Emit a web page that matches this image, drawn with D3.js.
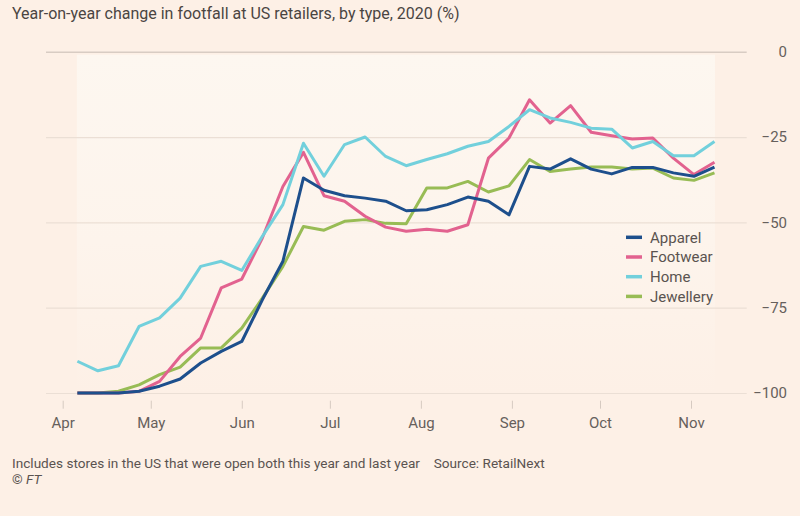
<!DOCTYPE html>
<html>
<head>
<meta charset="utf-8">
<script src="https://cdn.jsdelivr.net/npm/d3@7/dist/d3.min.js"></script>
<style>
  html, body { margin: 0; padding: 0; background: #fdf0e6; }
  svg { display: block; font-family: Roboto, "Open Sans", sans-serif; }
</style>
</head>
<body>
<svg id="chart" width="800" height="516"></svg>
<script>
// ---- data ----
const weekStarts = ["2020-04-06","2020-04-13","2020-04-20","2020-04-27","2020-05-04","2020-05-11","2020-05-18","2020-05-25",
  "2020-06-01","2020-06-08","2020-06-15","2020-06-22","2020-06-29","2020-07-06","2020-07-13","2020-07-20","2020-07-27",
  "2020-08-03","2020-08-10","2020-08-17","2020-08-24","2020-08-31","2020-09-07","2020-09-14","2020-09-21","2020-09-28",
  "2020-10-05","2020-10-12","2020-10-19","2020-10-26","2020-11-02","2020-11-09"];
const seriesNames = ["Apparel", "Footwear", "Home", "Jewellery"];
const apparel = [-100,-100,-100,-99.5,-98,-95.9,-91.2,-87.8,-84.9,-72.7,-61.4,-37,-40.6,-42.2,-42.9,-43.8,
  -46.6,-46.3,-44.8,-42.6,-43.8,-47.8,-33.6,-34.4,-31.4,-34.4,-35.8,-33.9,-33.9,-35.5,-36.5,-33.8];
const footwear = [-100,-100,-100,-99.5,-96.6,-89.3,-83.9,-69.2,-66.6,-54.6,-39.5,-29.5,-42.2,-43.8,-48.2,-51.4,
  -52.6,-52,-52.6,-50.7,-31.2,-25.3,-14.1,-20.9,-15.8,-23.6,-24.6,-25.6,-25.3,-31.2,-36,-32.4];
const home = [-90.7,-93.5,-92,-80.5,-78,-72.2,-62.9,-61.4,-64.1,-54.1,-44.8,-26.8,-36.5,-27.2,-25,-30.7,
  -33.4,-31.6,-29.9,-27.7,-26.3,-21.9,-17,-19.4,-20.7,-22.4,-22.7,-28.2,-26.3,-30.5,-30.5,-26.3];
const jewellery = [-100,-100,-99.5,-97.6,-94.6,-92.4,-86.8,-86.8,-81,-72.2,-62.9,-51.2,-52.3,-49.7,-49.2,-50.3,
  -50.4,-39.9,-39.9,-38,-41.1,-39.3,-31.6,-35.1,-34.4,-33.8,-33.8,-34.4,-34.1,-37,-37.7,-35.5];
const monthTicks = ["2020-04-01","2020-05-01","2020-06-01","2020-07-01","2020-08-01","2020-09-01","2020-10-01","2020-11-01"];
const yTicks = [0, -25, -50, -75, -100];

const colors = ["#1d4f8c", "#e2628f", "#72d0dc", "#98bc55"];
const seriesValues = [apparel, footwear, home, jewellery];

// ---- setup ----
const parse = d3.utcParse("%Y-%m-%d");
const svg = d3.select("#chart");

const x = d3.scaleUtc()
  .domain([parse("2020-04-01"), parse("2020-11-01")])
  .range([62.7, 691]);
const y = d3.scaleLinear().domain([-100, 0]).range([393, 51.7]);

// lighter plot panel
const defs = svg.append("defs");
const grad = defs.append("linearGradient").attr("id", "panel").attr("x1", 0).attr("y1", 0).attr("x2", 0).attr("y2", 1);
grad.append("stop").attr("offset", "0%").attr("stop-color", "#fdf7f0");
grad.append("stop").attr("offset", "55%").attr("stop-color", "#fdf4ec");
grad.append("stop").attr("offset", "100%").attr("stop-color", "#fdf0e6");
svg.append("rect")
  .attr("x", x(parse(weekStarts[0])) - 0.5)
  .attr("y", y(0) + 3)
  .attr("width", x(parse(weekStarts[weekStarts.length - 1])) - x(parse(weekStarts[0])) + 1)
  .attr("height", y(-100) - y(0) - 3)
  .attr("fill", "url(#panel)");

// title
svg.append("text")
  .attr("x", 12).attr("y", 19)
  .attr("font-size", 16).attr("fill", "#4a4542")
  .text("Year-on-year change in footfall at US retailers, by type, 2020 (%)");

// y axis with gridlines
const yAxis = d3.axisRight(y)
  .tickValues(yTicks)
  .tickSize(700.7)
  .tickPadding(0)
  .tickFormat(d => d === 0 ? "0" : "\u2212" + Math.abs(d));
const yg = svg.append("g").attr("transform", "translate(46,0)").call(yAxis);
yg.select(".domain").remove();
yg.selectAll(".tick line").attr("stroke", d => d === 0 ? "#d8ccc3" : "#ebdfd5").attr("stroke-width", d => d === 0 ? 1.5 : 1.2);
yg.selectAll(".tick text")
  .attr("x", 741).attr("text-anchor", "end")
  .attr("font-size", 15).attr("fill", "#66605c")
  .attr("font-family", "Roboto, sans-serif");

// x axis
const xAxis = d3.axisBottom(x)
  .tickValues(monthTicks.map(parse))
  .tickSize(8)
  .tickPadding(8.5)
  .tickFormat(d3.utcFormat("%b"));
const xg = svg.append("g").attr("transform", "translate(0,400.7)").call(xAxis);
xg.select(".domain").remove();
xg.selectAll(".tick line").attr("stroke", "#d6cac1").attr("stroke-width", 1);
xg.selectAll(".tick text")
  .attr("font-size", 15).attr("fill", "#66605c")
  .attr("font-family", "Roboto, sans-serif");

// lines
const line = d3.line()
  .x((d, i) => x(parse(weekStarts[i])))
  .y(d => y(d));

const order = [3, 1, 2, 0];
order.forEach(k => {
  svg.append("path")
    .datum(seriesValues[k])
    .attr("fill", "none")
    .attr("stroke", colors[k])
    .attr("stroke-width", 3)
    .attr("stroke-linejoin", "round")
    .attr("stroke-linecap", "butt")
    .attr("d", line);
});

// legend
const lg = svg.append("g").attr("transform", "translate(626,237.3)");
seriesNames.forEach((name, i) => {
  const row = lg.append("g").attr("transform", `translate(0,${i * 19.7})`);
  row.append("line").attr("x1", 0).attr("x2", 16).attr("y1", 0).attr("y2", 0)
    .attr("stroke", colors[i]).attr("stroke-width", 3.5);
  row.append("text").attr("x", 24).attr("y", 0).attr("dy", "0.35em")
    .attr("font-size", 15).attr("fill", "#5a5350").text(name);
});

// footnotes
svg.append("text")
  .attr("x", 12).attr("y", 468)
  .attr("font-size", 13.6).attr("fill", "#5a5350")
  .text("Includes stores in the US that were open both this year and last year\u2002\u2002Source: RetailNext");
const cr = svg.append("text")
  .attr("x", 12).attr("y", 484)
  .attr("font-size", 13.6).attr("fill", "#5a5350");
cr.append("tspan").text("\u00a9 ");
cr.append("tspan").attr("font-style", "italic").text("FT");
</script>
</body>
</html>
